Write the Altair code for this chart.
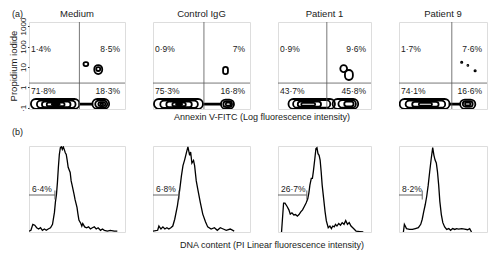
import altair as alt
import pandas as pd

FONT = "Liberation Sans"

# ---------------- (a) Annexin V / PI dot plots ----------------
PANELS = ["Medium", "Control IgG", "Patient 1", "Patient 9"]
PCT_UL = ["1·4%", "0·9%", "0·9%", "1·7%"]
PCT_UR = ["8·5%", "7%", "9·6%", "7·6%"]
PCT_LL = ["71·8%", "75·3%", "43·7%", "74·1%"]
PCT_LR = ["18·3%", "16·8%", "45·8%", "16·6%"]
GATE_X = [2.1, 2.1, 2.1, 2.4]      # annexin gate (log10 units)
GATE_Y = 0.21                      # PI gate (log10 units)
PI_TICKS = [-1, 0, 1, 2, 3]
PI_LABELS = ["·1", "1", "10", "100", "1000"]

# contour levels: (annexin lo, annexin hi, PI lo, PI hi) in log10 units
CONTOUR_MEDIUM = [
    (0.08, 2.10, -1.05, -0.57), (0.33, 1.94, -1.01, -0.65), (0.54, 1.73, -0.97, -0.70),
    (0.74, 1.48, -0.92, -0.75), (0.95, 1.28, -0.87, -0.78),
    (2.10, 2.64, -0.84, -0.80),
    (2.64, 3.34, -1.05, -0.57), (2.76, 3.26, -0.99, -0.65), (2.89, 3.18, -0.92, -0.72),
    (2.97, 3.09, -0.87, -0.77),
    (2.27, 2.47, 1.04, 1.24), (2.72, 3.05, 0.65, 1.09), (2.80, 2.97, 0.80, 0.99),
]
CONTOUR_CONTROL = [
    (0.04, 2.06, -1.05, -0.57), (0.30, 1.85, -1.01, -0.65), (0.55, 1.60, -0.97, -0.70),
    (0.80, 1.35, -0.92, -0.75), (0.95, 1.20, -0.87, -0.78),
    (2.06, 2.80, -0.84, -0.80),
    (2.80, 3.34, -1.05, -0.60), (2.90, 3.26, -0.97, -0.68), (3.00, 3.20, -0.90, -0.75),
    (2.89, 3.09, 0.65, 1.00),
]
CONTOUR_PATIENT1 = [
    (0.45, 2.45, -1.05, -0.57), (0.65, 2.25, -1.00, -0.63), (0.85, 1.85, -0.95, -0.70),
    (1.00, 1.60, -0.90, -0.76),
    (2.35, 3.45, -1.05, -0.57), (2.60, 3.35, -1.00, -0.63), (2.85, 3.25, -0.93, -0.70),
    (2.68, 2.97, 0.75, 1.09), (2.88, 3.22, 0.36, 0.85),
]
CONTOUR_PATIENT9 = [
    (0.03, 2.30, -1.05, -0.57), (0.30, 2.10, -1.00, -0.65), (0.60, 1.80, -0.95, -0.71),
    (0.90, 1.50, -0.90, -0.76),
    (2.30, 2.78, -0.84, -0.80),
    (2.78, 3.47, -1.05, -0.60), (2.90, 3.35, -0.95, -0.68), (3.00, 3.25, -0.88, -0.75),
    (2.82, 2.88, 1.20, 1.26), (3.11, 3.15, 1.05, 1.10), (3.43, 3.49, 0.78, 0.84),
]
CONTOURS = [CONTOUR_MEDIUM, CONTOUR_CONTROL, CONTOUR_PATIENT1, CONTOUR_PATIENT9]

# ---------------- (b) DNA content histograms ----------------
HIST_PCT = ["6·4%", "6·8%", "26·7%", "8·2%"]
HIST_GATE = [27, 26.8, 31, 26.4]

HIST_MEDIUM_X = [0, 2, 4, 6, 8, 10, 12, 14, 16, 18, 20, 22.4, 24.5, 26.5, 27.5, 28.6, 29.6, 30.6,
                 31.6, 32.7, 33.7, 34.7, 35.7, 36.7, 37.8, 38.8, 39.8, 40.8, 42.9, 43.9, 44.9, 47,
                 48, 50, 51, 52, 54, 55, 56, 58, 60, 62, 64, 66, 68, 70, 72, 74.5, 76.5, 78.5,
                 81.6, 84.7, 88.8, 92]
HIST_MEDIUM_Y = [1, 2, 9, 8, 5, 3.5, 5, 2, 3.5, 2, 3.5, 5, 9, 23, 35, 44, 58, 76,
                 91, 99, 100, 97, 100, 97, 93, 91, 84, 76, 70, 60, 55, 44,
                 38, 29, 21, 14, 10, 7, 10, 6, 5, 6, 3.5, 5, 6, 3.5, 5, 2, 3.5, 2,
                 1, 2, 1, 1]

HIST_CONTROL_X = [0, 4.8, 6.1, 8.2, 10.2, 12.2, 14.3, 16.3, 18.4, 20.4, 22.4, 25.2, 27.6, 29.3,
                  30.9, 32.7, 34.4, 36, 37.8, 38.8, 40.1, 41.8, 42.9, 44.6, 46.2, 48.7, 51.3,
                  54.1, 56.4, 59.9, 63.3, 66.3, 69.4, 72.4, 75.5, 79.6, 83.7]
HIST_CONTROL_Y = [1, 2, 7, 3.5, 6, 3.5, 5, 3.5, 5, 7, 15, 31, 50, 66,
                  78, 85, 93, 100, 90, 94, 81, 84, 78, 60, 50, 35, 21,
                  12, 6, 3.5, 5, 2, 5, 3.5, 2, 3.5, 1]

HIST_PATIENT1_X = [3.8, 6, 7.5, 9.8, 11.7, 13.2, 15, 17, 18.9, 20.8, 22.6, 24.5, 26.4, 28.3, 30.2,
                   32, 33.2, 34.3, 35.8, 37, 38, 39.6, 40.8, 41.9, 43, 44.2, 45.3, 46.4, 47.5,
                   49, 50.6, 52, 54, 55.8, 57.4, 58.9, 60.4, 61.9, 63.4, 65.3, 67.2, 69, 71,
                   72.8, 74.7, 76.6, 78.5, 80.4, 82.3, 84, 88, 91.7]
HIST_PATIENT1_Y = [0, 34, 34, 30, 26, 21, 22.5, 20, 20.5, 18.6, 20.5, 23.6, 26, 30, 34,
                   39, 46, 55, 63, 63, 71, 86, 98, 99, 92, 90, 84.5, 71, 55,
                   40, 24, 13, 5, 7, 4, 7, 6, 9, 7, 10, 8, 11, 9,
                   13.5, 9, 11, 7, 5, 3, 1, 0.5, 0]

HIST_PATIENT9_X = [5, 6.1, 7.1, 8.5, 11.9, 15.3, 18.6, 22, 24.7, 26.4, 28.1, 29.8, 31.5, 33.2,
                   34.9, 36.6, 38.3, 39.7, 41, 42.4, 43.7, 45.1, 46.4, 48.1, 49.8, 51.9, 54.2,
                   56.6, 58.6, 61, 63.4, 65.4, 67.8, 71.2, 74.6, 78, 80.3, 82.4]
HIST_PATIENT9_Y = [0, 9, 7, 4, 3, 3, 4, 5, 9, 15, 24, 32, 42, 55,
                   71, 86, 99, 90, 84.5, 81, 71, 55, 36, 20.5, 11, 6, 3,
                   4, 2, 4, 3, 4, 3.5, 4, 3.5, 2.7, 4, 0]

HIST_X = [HIST_MEDIUM_X, HIST_CONTROL_X, HIST_PATIENT1_X, HIST_PATIENT9_X]
HIST_Y = [HIST_MEDIUM_Y, HIST_CONTROL_Y, HIST_PATIENT1_Y, HIST_PATIENT9_Y]

CAPTION_A = "Annexin V-FITC (Log fluorescence intensity)"
CAPTION_B = "DNA content (PI Linear fluorescence intensity)"

# ---------------- layout ----------------
WIDTHS = [96, 97, 93, 88]
H_A = 87
H_B = 86
TXT = "#1a1a1a"
GATE_COLOR = "#555555"


def text_layer(txt, xpos, ypos, align, size=8.5, baseline="middle"):
    return alt.Chart(pd.DataFrame({"t": [txt]})).mark_text(
        align=align, baseline=baseline, fontSize=size, font=FONT, color=TXT).encode(
        x=alt.value(xpos), y=alt.value(ypos), text="t:N")


Y_AXIS = alt.Axis(
    values=PI_TICKS,
    labelExpr="datum.value < 0 ? '·1' : format(pow(10, datum.value), 'd')",
    labelAngle=270, labelAlign="center", labelBaseline="bottom",
    labelFontSize=8, labelPadding=0, labelColor=TXT, labelFont=FONT,
    ticks=True, tickSize=1.5, tickColor="#333333", domain=False, grid=False,
    title="Propidium iodide", titleFontSize=9.5, titleFontWeight="normal",
    titlePadding=1, titleColor=TXT, titleFont=FONT)


def contour_panel(i):
    w = WIDTHS[i]
    xs = alt.Scale(domain=[0, 4], nice=False, zero=False)
    ys = alt.Scale(domain=[-1.06, 3.2], nice=False, zero=False)
    yaxis = Y_AXIS if i == 0 else None
    cdf = pd.DataFrame(CONTOURS[i], columns=["x0", "x1", "y0", "y1"])
    rects = alt.Chart(cdf).mark_rect(filled=False, color="black", strokeWidth=1.8,
                                     cornerRadius=80, clip=True).encode(
        x=alt.X("x0:Q", scale=xs, axis=None), x2="x1:Q",
        y=alt.Y("y0:Q", scale=ys, axis=yaxis), y2="y1:Q")
    gx = alt.Chart(pd.DataFrame({"g": [GATE_X[i]]})).mark_rule(
        color=GATE_COLOR, strokeWidth=0.8).encode(x=alt.X("g:Q", scale=xs, axis=None))
    gy = alt.Chart(pd.DataFrame({"y0": [GATE_Y]})).mark_rule(
        color=GATE_COLOR, strokeWidth=0.8).encode(y=alt.Y("y0:Q", scale=ys, axis=yaxis))

    layers = [rects, gx, gy,
              text_layer(PANELS[i], w / 2, -8, "center", 9.5),
              text_layer(PCT_UL[i], 2, 27, "left"), text_layer(PCT_UR[i], w - 5, 27, "right"),
              text_layer(PCT_LL[i], 2, 69, "left"), text_layer(PCT_LR[i], w - 5, 69, "right")]
    if i == 0:
        layers.append(text_layer("(a)", -17, -8, "left", 9))
        layers.append(text_layer(CAPTION_A, 233, H_A + 8, "center", 9))
    return alt.layer(*layers).properties(width=w, height=H_A)


def hist_panel(j):
    w = WIDTHS[j]
    xs = alt.Scale(domain=[0, 100], nice=False, zero=False)
    ys = alt.Scale(domain=[0, 101], nice=False)
    hdf = pd.DataFrame({"x": HIST_X[j], "y": HIST_Y[j]})
    line = alt.Chart(hdf).mark_line(color="black", strokeWidth=1.3, clip=True).encode(
        x=alt.X("x:Q", scale=xs, axis=None), y=alt.Y("y:Q", scale=ys, axis=None))
    gdf = pd.DataFrame({"start": [0], "gate": [HIST_GATE[j]], "t": [HIST_PCT[j]]})
    bracket = alt.Chart(gdf).mark_rule(color=GATE_COLOR, strokeWidth=0.9).encode(
        x=alt.X("start:Q", scale=xs, axis=None), x2="gate:Q", y=alt.value(49))
    tick = alt.Chart(gdf).mark_rule(color=GATE_COLOR, strokeWidth=0.9).encode(
        x=alt.X("gate:Q", scale=xs, axis=None), y=alt.value(44.5), y2=alt.value(53.5))
    lab = text_layer(HIST_PCT[j], 3, 47.5, "left", 8.5, "bottom")
    layers = [line, bracket, tick, lab]
    if j == 0:
        layers.append(text_layer("(b)", -17, -14, "left", 9))
        layers.append(text_layer(CAPTION_B, 243, H_B + 13, "center", 9))
    return alt.layer(*layers).properties(width=w, height=H_B)


panels = [contour_panel(i) for i in range(4)] + [hist_panel(j) for j in range(4)]

chart = alt.concat(
    *panels, columns=4, spacing={"row": 37, "column": 28}, bounds="flush", padding=0
).configure_view(stroke="#333333", strokeWidth=1).configure(background="white")

chart.save("out.html", embed_options={"renderer": "svg", "actions": False})
